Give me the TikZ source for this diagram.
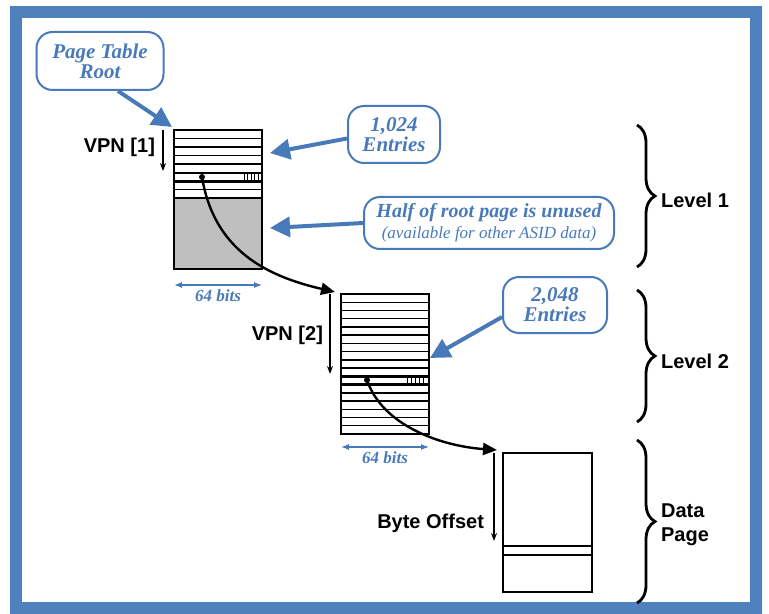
\documentclass[tikz,border=0pt]{standalone}
\usepackage{xcolor}
\usepackage{fontspec}
\setmainfont{Liberation Serif}
\setsansfont{Liberation Sans}
\usepackage{tikz}
\usetikzlibrary{arrows.meta}
\usetikzlibrary{decorations.pathreplacing}
\definecolor{frameblue}{RGB}{79,129,189}
\definecolor{noteblue}{RGB}{72,122,186}
\definecolor{unusedgray}{RGB}{191,191,191}
\tikzset{
  note/.style={draw=noteblue, line width=1pt, rounded corners=8pt, align=center,
    text=noteblue, font=\bfseries\itshape\fontsize{10.5}{10}\selectfont, inner sep=2pt},
  notearrow/.style={draw=noteblue, line width=2pt, -{Triangle[length=10pt,width=10pt]}},
  tbl/.style={draw, line width=1pt, anchor=north west, inner sep=0pt, outer sep=0pt},
  rowline/.style={line width=0.7pt},
  pick/.style={line width=1.3pt},
  ptr/.style={line width=1.2pt, -{Triangle[length=7pt,width=6pt]}},
  dot/.style={circle, fill, inner sep=0pt, minimum size=3pt},
  walk/.style={line width=0.6pt, -{Stealth[length=4pt,width=3pt]}},
  lbl/.style={font=\sffamily\bfseries\fontsize{10}{12}\selectfont},
  dim/.style={draw=noteblue, line width=0.6pt, {Latex[length=4pt]}-{Latex[length=4pt]}},
  dimtxt/.style={text=noteblue, font=\bfseries\itshape\fontsize{8.5}{9}\selectfont},
  lvl/.style={line width=1.4pt, decorate, decoration={brace, amplitude=9pt}},
}

\begin{document}
\begin{tikzpicture}[x=0.5pt, y=-0.5pt]
\useasboundingbox (0,0) rectangle (769,614);
\draw[frameblue, line width=6pt] (16,12.5) rectangle (756,608);

% level 1 table, lower half unused
\fill[unusedgray] (174,198) rectangle (262,269);
\foreach \r in {1,...,8}
  \draw[rowline] (174,130+\r*8.5) -- (262,130+\r*8.5);
\node[tbl, minimum width=44pt, minimum height=69.5pt] (l1) at (174,130) {};
\draw[pick] (174,173) rectangle (262,181.5);
\foreach \h in {244,247.5,...,258}
  \draw[line width=0.4pt] (\h,173) -- (\h,181.5);

% level 2 table
\foreach \r in {1,...,16}
  \draw[rowline] (341,294+\r*8.235) -- (429,294+\r*8.235);
\node[tbl, minimum width=44pt, minimum height=70pt] (l2) at (341,294) {};
\draw[pick] (341,376.4) rectangle (429,384.6);
\foreach \h in {407,411,...,423}
  \draw[line width=0.4pt] (\h,376.4) -- (\h,384.6);

% data page
\node[tbl, line width=0.8pt, minimum width=44.5pt, minimum height=69.5pt] (pg) at (503,453) {};
\draw[rowline] (503,546) -- (592,546);
\draw[rowline] (503,555) -- (592,555);

% pointers
\node[dot] (d1) at (202,177) {};
\node[dot] (d2) at (367,380) {};
\draw[ptr] (d1.center) .. controls (214,250) and (266,276) .. ([shift={(-3pt,1pt)}]l2.north west);
\draw[ptr] (d2.center) .. controls (382,425) and (440,446) .. ([shift={(-3pt,1.5pt)}]pg.north west);

% walk labels
\node[lbl, anchor=east] (v1) at (162,147) {VPN [1]};
\draw[walk] ([xshift=-5.5pt]l1.north west) -- ++(0,41);
\node[lbl, anchor=east] (v2) at (330,335) {VPN [2]};
\draw[walk] ([xshift=-5.5pt]l2.north west) -- ++(0,80);
\node[lbl, anchor=east] (off) at (491,523) {Byte Offset};
\draw[walk] ([xshift=-4.5pt]pg.north west) -- ++(0,88);

% widths
\draw[dim] ([yshift=-8pt]l1.south west) -- ([yshift=-8pt]l1.south east)
  node[midway, below=-1.5pt, dimtxt] {64 bits};
\draw[dim] ([yshift=-6.5pt]l2.south west) -- ([yshift=-6.5pt]l2.south east)
  node[midway, below=-1.5pt, dimtxt] {64 bits};

% callouts
\node[note, minimum width=63.5pt, minimum height=29pt] (root) at (100,61) {Page Table\\Root};
\node[note, minimum width=46pt, minimum height=28.5pt] (n1024) at (394,134.5) {1,024\\Entries};
\node[note, minimum width=125pt, minimum height=26pt, font=\bfseries\itshape\fontsize{10}{10.5}\selectfont] (unused) at (489,223)
  {Half of root page is unused\\{\mdseries\fontsize{8.5}{10}\selectfont (available for other ASID data)}};
\node[note, minimum width=52pt, minimum height=28pt] (n2048) at (555,305) {2,048\\Entries};

\coordinate (troot) at (172,127);
\coordinate (t1024) at (270,153);
\coordinate (tunused) at (270,228);
\coordinate (t2048) at (430,358);
\draw[notearrow] ([xshift=9pt]root.south) -- (troot);
\draw[notearrow] ([yshift=-2pt]n1024.west) -- (t1024);
\draw[notearrow] (unused.west) -- (tunused);
\draw[notearrow] ([yshift=-6pt]n2048.west) -- (t2048);

% levels
\draw[lvl] (637,125) -- (637,267);
\draw[lvl] (637,290) -- (637,422);
\draw[lvl] (637,440) -- (637,603);
\node[lbl, anchor=west] (lv1) at (654,200) {Level 1};
\node[lbl, anchor=west] (lv2) at (654,361) {Level 2};
\node[lbl, anchor=west, align=left] (lv3) at (654,525) {Data\\Page};
\end{tikzpicture}
\end{document}
